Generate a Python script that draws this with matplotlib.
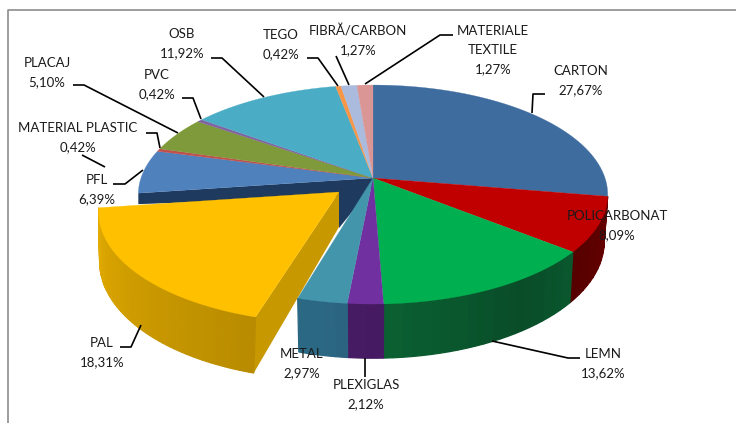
import numpy as np
import matplotlib
matplotlib.use("Agg")
import matplotlib.pyplot as plt
from matplotlib.colors import to_rgb

plt.rcParams["font.family"] = ["Lato", "DejaVu Sans"]

# clockwise from 12 o'clock
names = ["CARTON", "POLICARBONAT", "LEMN", "PLEXIGLAS", "METAL", "PAL", "PFL",
         "MATERIAL PLASTIC", "PLACAJ", "PVC", "OSB", "TEGO", "FIBRĂ/CARBON", "MATERIALE\nTEXTILE"]
values = [27.67, 8.09, 13.62, 2.12, 2.97, 18.31, 6.39, 0.42, 5.10, 0.42, 11.92, 0.42, 1.27, 1.27]
value_labels = ["27,67%", "8,09%", "13,62%", "2,12%", "2,97%", "18,31%", "6,39%",
                "0,42%", "5,10%", "0,42%", "11,92%", "0,42%", "1,27%", "1,27%"]
colors = ["#3e6c9f", "#c00000", "#00b050", "#7030a0", "#4295ab", "#ffc000", "#4f81bd",
          "#c0504d", "#7f9a3a", "#8064a2", "#4bacc6", "#f79646", "#aabbdd", "#d99694"]
wall_colors = ["#2a4a70", "#600000", "#0b6233", "#451a62", "#28607a", "#d6a200", "#1f3a5f",
               "#703030", "#4a5a22", "#4a3a60", "#2c6a7a", "#90582a", "#6a7488", "#805858"]

label_x = [581, 617, 603, 366, 302, 102, 97, 78, 47, 157, 182, 281, 358, 493]
label_y = [71, 216, 354, 385, 354, 343, 180, 128, 63, 75, 34, 35, 31, 31]

leaders = [
    [(532, 113), (533, 94), (545, 94)],
    [(492, 341), (568, 358), (580, 358)],
    [(365, 358), (365, 377)],
    [(120, 347), (131, 347), (141, 325)],
    [(113, 184), (125, 184), (143, 170)],
    [(146, 133), (157, 133), (160, 148)],
    [(82, 155), (105, 167)],
    [(73, 85), (84, 85), (178, 133)],
    [(182, 98), (193, 98), (201, 119)],
    [(211, 58), (222, 58), (264, 97)],
    [(307, 58), (318, 58), (338, 86)],
    [(336, 56), (349, 85)],
    [(365, 84), (440, 35), (453, 35)],
]

CX, CY = 373, 178
RX, RY, PERSP = 232, 107, 0.151
DEPTH = 46
BOTTOM_SCALE = 0.985
EXPLODED = 5  # PAL
PAL_APEX = (339, 192)
PAL_SCALE = 1.02
PAL_SHEAR = 0.055


def rim(theta, drop=False):
    """theta in radians clockwise from top -> pixel offset from centre"""
    u, v = np.sin(theta), np.cos(theta)
    w = 1 + PERSP * v
    x = RX * u / w
    y = -RY * v / w
    if drop:
        x = x * BOTTOM_SCALE
        y = y + DEPTH / w
    return x, y


def shade(color, f):
    return tuple(min(1, c * f) for c in to_rgb(color))


def wall_shade(t):
    # darkest towards the lower right of the front wall
    return 0.78 + 0.3 * min(1, abs(t - 2.55) / 0.8)


fig = plt.figure(figsize=(7.36, 4.23), dpi=100)
ax = fig.add_axes([0, 0, 1, 1])
ax.set_xlim(0, 736)
ax.set_ylim(423, 0)
ax.axis("off")

ax.plot([7.5, 7.5, 736], [423, 10, 10], color="#8c8c8c", lw=1.2, zorder=1)

edges = np.cumsum([0] + values) / sum(values) * 2 * np.pi

# navy cut face under PFL
t = edges[EXPLODED + 1]
x, y = rim(t)
ax.fill([CX, CX + x, CX + x, PAL_APEX[0], PAL_APEX[0], CX],
        [CY, CY + y, CY + y + 11, PAL_APEX[1] + 5, PAL_APEX[1] + 36, CY + 8],
        color=wall_colors[EXPLODED + 1], lw=0, zorder=2)

# side walls, cut in strips so the shading can vary
for i, (a, b) in enumerate(zip(edges[:-1], edges[1:])):
    if i == EXPLODED or not (np.pi * 0.5 < (a + b) / 2 < np.pi * 1.5):
        continue
    ts = np.linspace(a, b, max(int((b - a) * 30), 3))
    for t0, t1 in zip(ts[:-1], ts[1:]):
        tt = np.linspace(t0, t1, 4)
        xt, yt = rim(tt)
        xb, yb = rim(tt, drop=True)
        ax.fill(CX + np.r_[xt, xb[::-1]], CY + np.r_[yt, yb[::-1]],
                color=shade(wall_colors[i], wall_shade((t0 + t1) / 2)), lw=0.9, zorder=3)

# top faces
for i, (a, b) in enumerate(zip(edges[:-1], edges[1:])):
    if i == EXPLODED:
        continue
    tt = np.linspace(a, b, 80)
    xt, yt = rim(tt)
    ax.fill(np.r_[CX, CX + xt], np.r_[CY, CY + yt], color=colors[i], lw=0.2, zorder=4)

# exploded PAL slice
a, b = edges[EXPLODED], edges[EXPLODED + 1]
ax_, ay_ = PAL_APEX
tt = np.linspace(a, b, 60)
xt, yt = rim(tt)
xb, yb = rim(tt, drop=True)
px, py = ax_ + xt * PAL_SCALE - yt * PAL_SHEAR, ay_ + yt * 1.04
qx, qy = ax_ + xb * PAL_SCALE - yb * PAL_SHEAR, ay_ + yb * 1.04
ax.fill([ax_, px[0], qx[0], ax_], [ay_, py[0], qy[0], ay_ + 35], color="#c89800", lw=0, zorder=5)
n = len(tt) - 1
for j in range(n):
    pos = j / n
    # pos 0 is the front corner, pos 1 the far left
    f = 0.86 + 0.2 * pos
    ax.fill([px[j], px[j + 1], qx[j + 1], qx[j]], [py[j], py[j + 1], qy[j + 1], qy[j]],
            color=shade(wall_colors[EXPLODED], f), lw=0.9, zorder=5)
ax.fill(np.r_[ax_, px], np.r_[ay_, py], color=colors[EXPLODED], lw=0.2, zorder=6)

for pts in leaders:
    xs, ys = zip(*pts)
    ax.plot(xs, ys, color="black", lw=1.2, zorder=7, solid_capstyle="butt")

for name, val, x, y in zip(names, value_labels, label_x, label_y):
    lines = name.split("\n") + [val]
    for k, line in enumerate(lines):
        ax.text(x, y + k * 19.3, line, ha="center", va="center", fontsize=9.5,
                color="#1a1a1a", zorder=8)

fig.savefig("out.png", dpi=100)
